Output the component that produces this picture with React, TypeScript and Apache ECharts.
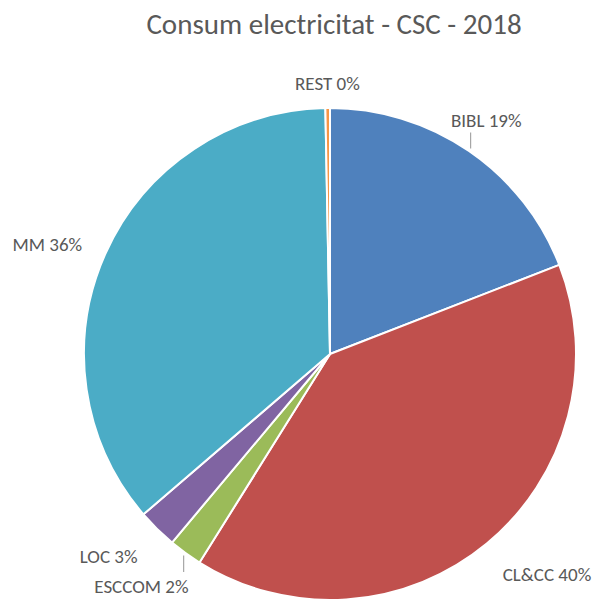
import React, { useEffect, useRef } from "react";
import * as echarts from "echarts";

const categories = ["BIBL", "CL&CC", "ESCCOM", "LOC", "MM", "REST"];
const values = [19.1, 39.8, 2.2, 2.6, 36.0, 0.3];
const colors = ["#4F81BD", "#C0504D", "#9BBB59", "#8064A2", "#4BACC6", "#F79646"];

// label placement (Excel "best fit" look): distance from centre and angular offset from slice mid-angle
const labelDist = [281, 309, 299, 300, 303, 271];
const labelAngleOffset = [-0.6, -5, 3.1, 2.9, -3, 0];
const showLeader = [true, false, true, false, false, false];

const CX = 330;
const CY = 354;
const R = 246;

export default function App() {
  const ref = useRef<HTMLDivElement>(null);
  useEffect(() => {
    if (!ref.current) return;
    const chart = echarts.init(ref.current, undefined, { renderer: "svg" });
    const total = values.reduce((a, b) => a + b, 0);
    const mids: number[] = [];
    let acc = 0;
    values.forEach((v) => {
      mids.push(((acc + v / 2) / total) * 360);
      acc += v;
    });
    const font = "Carlito, Calibri, Lato, sans-serif";
    chart.setOption({
      animation: false,
      title: {
        text: "Consum electricitat - CSC - 2018",
        left: 329,
        top: 4,
        textAlign: "center",
        textStyle: { fontFamily: font, fontSize: 29, fontWeight: "normal", color: "#595959" },
      },
      series: [
        {
          type: "pie",
          center: [CX, CY],
          radius: R,
          startAngle: 90,
          clockwise: true,
          avoidLabelOverlap: false,
          itemStyle: { borderColor: "#fff", borderWidth: 2 },
          label: {
            show: true,
            position: "outside",
            fontFamily: font,
            fontSize: 19,
            color: "#595959",
            formatter: (p: any) => `${p.name} ${Math.round(p.percent)}%`,
          },
          labelLine: { show: true, lineStyle: { color: "#A6A6A6", width: 1.2 } },
          labelLayout: (p: any) => {
            const i = p.dataIndex;
            const a = ((mids[i] + labelAngleOffset[i]) * Math.PI) / 180;
            const x = CX + labelDist[i] * Math.sin(a);
            const y = CY - labelDist[i] * Math.cos(a);
            const res: any = { x, y, align: "center", verticalAlign: "middle", hideOverlap: false };
            if (showLeader[i]) {
              const m = (mids[i] * Math.PI) / 180;
              const sx = CX + (R + 3) * Math.sin(m);
              const sy = CY - (R + 3) * Math.cos(m);
              const ey = sy < y ? y - 14 : y + 12;
              res.labelLinePoints = [
                [sx, sy],
                [sx, (sy + ey) / 2],
                [sx, ey],
              ];
            }
            return res;
          },
          data: categories.map((c, i) => ({
            name: c,
            value: values[i],
            itemStyle: { color: colors[i] },
            labelLine: { show: showLeader[i] },
          })),
        },
      ],
    });
    return () => chart.dispose();
  }, []);
  return (
    <div
      ref={ref}
      style={{ position: "fixed", left: 0, top: 0, width: 595, height: 601, background: "#fff" }}
    />
  );
}
